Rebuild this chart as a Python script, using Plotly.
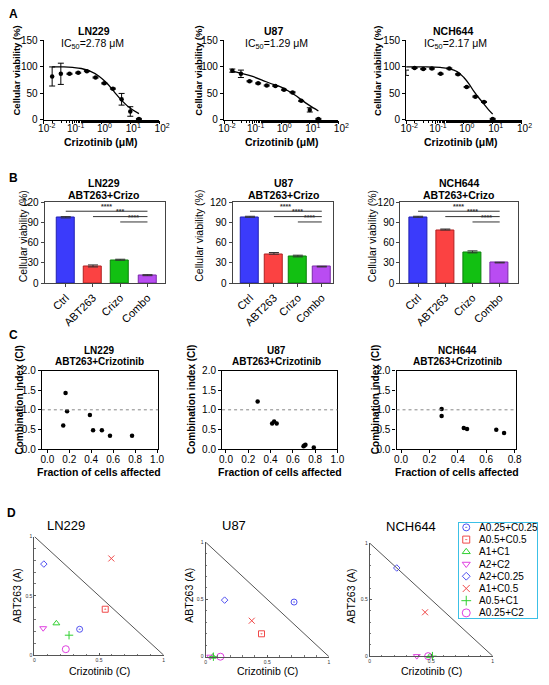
import plotly.graph_objects as go

FONT = "Liberation Sans, Arial, Helvetica, sans-serif"
W, H = 549, 685

# ---------------- DATA ----------------
cells = ["LN229", "U87", "NCH644"]
ic50_labels = ["2.78", "1.29", "2.17"]
decade_vals = [0.01, 0.1, 1, 10, 100]
decade_text = ["10<sup>-2</sup>", "10<sup>-1</sup>", "10<sup>0</sup>", "10<sup>1</sup>", "10<sup>2</sup>"]

# Panel A: dose response
conc_ln229 = [0.0195, 0.039, 0.078, 0.156, 0.3125, 0.625, 1.25, 2.5, 5, 10, 20]
via_ln229 = [82, 87, 87, 89, 92, 80, 69, 59, 39, 16, 2]
err_ln229 = [18, 20, 1, 1, 1, 1, 1, 1, 11, 9, 1]
fit_x_ln229 = [0.0195, 0.05, 0.1, 0.2, 0.4, 0.8, 1.5, 2.78, 5, 10, 20]
fit_y_ln229 = [100, 100, 99, 97, 92, 83, 70, 53, 37, 22, 12]

conc_u87 = [0.0195, 0.039, 0.078, 0.156, 0.3125, 0.625, 1.25, 2.5, 5, 10, 20]
via_u87 = [93, 87, 73, 69, 65, 64, 57, 52, 36, 19, 2]
err_u87 = [3, 7, 1, 1, 1, 1, 1, 1, 1, 4, 1]
fit_x_u87 = [0.0195, 0.04, 0.1, 0.3, 0.6, 1.0, 3, 6, 10, 20]
fit_y_u87 = [92, 88, 82, 72, 66, 62, 47, 35, 27, 17]

conc_nch = [0.0098, 0.0195, 0.039, 0.078, 0.156, 0.3125, 0.625, 1.25, 2.5, 5, 10]
via_nch = [89, 98, 96, 97, 87, 97, 86, 62, 44, 34, 2]
err_nch = [5, 1, 1, 1, 1, 1, 1, 1, 1, 1, 1]
fit_x_nch = [0.0098, 0.05, 0.15, 0.3, 0.6, 1.0, 1.5, 2.17, 3.5, 5, 7, 10]
fit_y_nch = [100, 100, 99, 97, 91, 80, 68, 55, 40, 30, 20, 11]

# Panel B: bars
groups = ["Ctrl", "ABT263", "Crizo", "Combo"]
bar_ln229 = [97, 24, 34, 11]
bar_err_ln229 = [2, 3, 1.5, 1.5]
bar_u87 = [98, 43, 39, 24]
bar_err_u87 = [1.5, 2.5, 2.5, 1]
bar_nch = [98, 79, 45, 30]
bar_err_nch = [1.5, 1.5, 3, 1]
sig_pairs = [(0, 3), (1, 3), (2, 3)]
sig_levels = [107, 99, 91]
sig_ln229 = ["****", "***", "****"]
sig_u87 = ["****", "****", "****"]
sig_nch = ["****", "****", "****"]

# Panel C: combination index
fa_ln229 = [0.166, 0.18, 0.145, 0.388, 0.417, 0.497, 0.571, 0.772]
ci_ln229 = [1.43, 0.96, 0.60, 0.87, 0.48, 0.48, 0.34, 0.34]
fa_u87 = [0.284, 0.414, 0.432, 0.455, 0.696, 0.704, 0.713, 0.788]
ci_u87 = [1.21, 0.65, 0.70, 0.65, 0.07, 0.09, 0.11, 0.04]
fa_nch = [0.286, 0.286, 0.442, 0.465, 0.671, 0.726]
ci_nch = [1.02, 0.84, 0.54, 0.51, 0.49, 0.41]

# Panel D: isobolograms
combos = ["A0.25+C0.25", "A0.5+C0.5", "A1+C1", "A2+C2", "A2+C0.25", "A1+C0.5", "A0.5+C1", "A0.25+C2"]
iso_c_ln229 = [0.35, 0.548, 0.17, 0.068, 0.073, 0.595, 0.268, 0.243]
iso_a_ln229 = [0.218, 0.387, 0.268, 0.227, 0.768, 0.815, 0.168, 0.05]
iso_c_u87 = [0.717, 0.453, 0.058, 0.037, 0.154, 0.374, 0.063, 0.12]
iso_a_u87 = [0.477, 0.2, 0.0, 0.0, 0.494, 0.314, 0.0, 0.0]
iso_c_nch = [None, None, 0.49, 0.383, 0.22, 0.45, 0.51, 0.475]
iso_a_nch = [None, None, 0.0, 0.0, 0.78, 0.388, 0.0, 0.0]

# ---------------- STYLES ----------------
bar_colors = ["#3b3bfb", "#fb4242", "#12c012", "#b94cf2"]
bar_lines = ["#2020b0", "#b02020", "#0a800a", "#7a2aa8"]
combo_symbols = ["circle-open-dot", "square-open-dot", "triangle-up-open", "triangle-down-open",
                 "diamond-open", "x-thin-open", "cross-thin-open", "circle-open"]
combo_colors = ["#5050f0", "#f04848", "#30d030", "#e040e0", "#5050f0", "#f04848", "#30d030", "#e040e0"]
combo_sizes = [6, 6, 6, 6, 5, 6, 6, 7]


def X(p):
    return p / W


def Y(p):
    return 1 - p / H


fig = go.Figure()
layout = {}
annotations = []
shapes = []


def axname(n):
    return ("xaxis" if n == 1 else f"xaxis{n}"), ("yaxis" if n == 1 else f"yaxis{n}")


def ref(n):
    return ("x" if n == 1 else f"x{n}"), ("y" if n == 1 else f"y{n}")


def add_axes(n, xpx, ypx, xcfg, ycfg):
    xa, ya = axname(n)
    xr, yr = ref(n)
    layout[xa] = dict(domain=[X(xpx[0]), X(xpx[1])], anchor=yr, **xcfg)
    layout[ya] = dict(domain=[Y(ypx[1]), Y(ypx[0])], anchor=xr, **ycfg)


def ann(text, x, y, size, bold=False, angle=0, xanchor="center", yanchor="middle", color="black"):
    if bold:
        text = f"<b>{text}</b>"
    annotations.append(dict(text=text, x=X(x), y=Y(y), xref="paper", yref="paper", showarrow=False,
                            font=dict(size=size, family=FONT, color=color), textangle=angle,
                            xanchor=xanchor, yanchor=yanchor))


tickfont = dict(size=10, family=FONT, color="black")

# ---------------- PANEL A ----------------
A_x = [(39, 158), (225, 343), (413, 532)]
A_data = [(conc_ln229, via_ln229, err_ln229, fit_x_ln229, fit_y_ln229),
          (conc_u87, via_u87, err_u87, fit_x_u87, fit_y_u87),
          (conc_nch, via_nch, err_nch, fit_x_nch, fit_y_nch)]
A_title_x = [91, 276, 461]
A_ic_x = [89, 279, 464]
A_ytitle_x = [11, 199, 384]
A_xtitle_x = [98, 285, 470]
for i in range(3):
    n = 1 + i
    add_axes(n, A_x[i], (35, 116),
             dict(type="log", range=[-2, 2], tickvals=decade_vals, ticktext=decade_text,
                  showline=True, linecolor="black", linewidth=1.3, ticks="outside", ticklen=3,
                  tickcolor="black", tickfont=tickfont, showgrid=False, zeroline=False,
                  ticklabelstandoff=-4, ticklabelshift=3,
                  minor=dict(ticks="outside", ticklen=2, tickcolor="black", showgrid=False)),
             dict(range=[0, 150], tickvals=[0, 50, 100, 150], showline=True, linecolor="black",
                  linewidth=1.3, ticks="outside", ticklen=3, tickcolor="black", tickfont=tickfont,
                  showgrid=False, zeroline=False))
    xr, yr = ref(n)
    conc, via, err, fx, fy = A_data[i]
    fig.add_trace(go.Scatter(x=fx, y=fy, mode="lines", line=dict(color="black", width=1.3, shape="spline"),
                             xaxis=xr, yaxis=yr, hoverinfo="skip"))
    fig.add_trace(go.Scatter(x=conc, y=via, mode="markers", marker=dict(color="black", size=4.5),
                             error_y=dict(type="data", array=err, color="black", thickness=1, width=3),
                             xaxis=xr, yaxis=yr, cliponaxis=False))
    ann(cells[i], A_title_x[i], 25, 10.5, bold=True)
    ann(f"IC<sub>50</sub>={ic50_labels[i]} \u03bcM", A_ic_x[i], 39, 10.5)
    ann("Cellular viability (%)", A_ytitle_x[i], 66, 9.5, bold=True, angle=-90)
    ann("Crizotinib (\u03bcM)", A_xtitle_x[i], 138, 10.5, bold=True)

# ---------------- PANEL B ----------------
B_x = [(40, 164), (234, 337), (407, 528)]
B_range = [[-0.77, 3.64], [-0.72, 3.45], [-0.65, 3.66]]
B_width = [0.66, 0.74, 0.66]
B_data = [(bar_ln229, bar_err_ln229, sig_ln229), (bar_u87, bar_err_u87, sig_u87), (bar_nch, bar_err_nch, sig_nch)]
B_title_x = [101, 286, 467]
B_ytitle_x = [17, 199, 378]
for i in range(3):
    n = 4 + i
    add_axes(n, B_x[i], (200, 282),
             dict(range=B_range[i], tickvals=[0, 1, 2, 3], ticktext=groups, tickangle=-45,
                  showline=True, mirror=True, linecolor="#444", linewidth=1.2, ticks="outside",
                  ticklen=3, tickcolor="#444", tickfont=dict(size=11, family=FONT, color="black"),
                  showgrid=False, zeroline=False),
             dict(range=[0, 120], tickvals=[0, 30, 60, 90, 120], showline=True, mirror=True,
                  linecolor="#444", linewidth=1.2, ticks="outside", ticklen=3, tickcolor="#444",
                  tickfont=tickfont, showgrid=False, zeroline=False))
    xr, yr = ref(n)
    vals, errs, sigs = B_data[i]
    fig.add_trace(go.Bar(x=[0, 1, 2, 3], y=vals, width=B_width[i],
                         marker=dict(color=bar_colors, line=dict(color=bar_lines, width=1)),
                         error_y=dict(type="data", array=errs, arrayminus=[0] * 4, symmetric=False,
                                      color="#333", thickness=1, width=5),
                         xaxis=xr, yaxis=yr))
    for (a, b), lvl, s in zip(sig_pairs, sig_levels, sigs):
        shapes.append(dict(type="line", xref=xr, yref=yr, x0=a, x1=b, y0=lvl, y1=lvl,
                           line=dict(color="#333", width=1)))
        annotations.append(dict(text=f"<b>{s}</b>", x=(a + b) / 2, y=lvl - 1, xref=xr, yref=yr,
                                showarrow=False, yanchor="bottom",
                                font=dict(size=7, family=FONT, color="#333")))
    ann(cells[i], B_title_x[i], 180, 10.5, bold=True)
    ann("ABT263+Crizo", B_title_x[i], 192, 10.5, bold=True)
    ann("Cellular viability (%)", B_ytitle_x[i], 234, 10.5, angle=-90)

# ---------------- PANEL C ----------------
C_x = [(37, 157), (223, 342), (403, 526)]
C_range = [[-0.05, 1.01], [-0.035, 1.0], [-0.032, 0.808]]
C_xticks = [[0, 0.2, 0.4, 0.6, 0.8, 1.0], [0, 0.2, 0.4, 0.6, 0.8, 1.0], [0, 0.2, 0.4, 0.6, 0.8]]
C_data = [(fa_ln229, ci_ln229), (fa_u87, ci_u87), (fa_nch, ci_nch)]
C_title_x = [96, 279, 466]
C_ytitle_x = [14, 192, 382]
C_xtitle_x = [96, 283, 465]
for i in range(3):
    n = 7 + i
    add_axes(n, C_x[i], (371, 451),
             dict(range=C_range[i], tickvals=C_xticks[i], tickformat=".1f", showline=True, mirror=True,
                  linecolor="black", linewidth=1.2, ticks="outside", ticklen=3, tickcolor="black",
                  tickfont=tickfont, showgrid=False, zeroline=False, ticklabelstandoff=-2),
             dict(range=[0, 2], tickvals=[0, 0.5, 1.0, 1.5, 2.0], tickformat=".1f", showline=True,
                  mirror=True, linecolor="black", linewidth=1.2, ticks="outside", ticklen=3,
                  tickcolor="black", tickfont=tickfont, showgrid=False, zeroline=False))
    xr, yr = ref(n)
    fa, ci = C_data[i]
    shapes.append(dict(type="line", xref=f"{xr} domain", yref=yr, x0=0, x1=1, y0=1, y1=1,
                       line=dict(color="#888", width=1, dash="dot")))
    fig.add_trace(go.Scatter(x=fa, y=ci, mode="markers", marker=dict(color="black", size=4.5),
                             xaxis=xr, yaxis=yr, cliponaxis=False))
    ann(cells[i], C_title_x[i], 351, 10, bold=True)
    ann("ABT263+Crizotinib", C_title_x[i], 361.5, 10, bold=True)
    ann("Combination index (CI)", C_ytitle_x[i], 401, 10, bold=True, angle=-90)
    ann("Fraction of cells affected", C_xtitle_x[i], 474, 10.5, bold=True)

# ---------------- PANEL D ----------------
D_x = [(29.3, 162.7), (206, 333.3), (375.3, 502.3)]
D_y = [(540, 660.7), (545.7, 662.3), (546.7, 661.7)]
D_data = [(iso_c_ln229, iso_a_ln229), (iso_c_u87, iso_a_u87), (iso_c_nch, iso_a_nch)]
D_title = [(62, 529), (235, 529), (418, 530)]
D_ytitle_x = [12, 189, 357]
D_xtitle_x = [96, 270, 439]
small = dict(size=5, family=FONT, color="#333")
for i in range(3):
    n = 10 + i
    add_axes(n, D_x[i], D_y[i],
             dict(range=[0, 1], tickvals=[0, 0.5, 1], ticktext=["0", "0.5", "1"], showline=True,
                  linecolor="#555", linewidth=1, ticks="inside", ticklen=2, tickcolor="#555",
                  tickfont=small, showgrid=False, zeroline=False,
                  minor=dict(ticks="inside", ticklen=1.5, dtick=0.1, tickcolor="#777", showgrid=False)),
             dict(range=[0, 1], tickvals=[0, 0.5, 1], ticktext=["0", "0.5", "1"], showline=True,
                  linecolor="#555", linewidth=1, ticks="inside", ticklen=2, tickcolor="#555",
                  tickfont=small, showgrid=False, zeroline=False,
                  minor=dict(ticks="inside", ticklen=1.5, dtick=0.1, tickcolor="#777", showgrid=False)))
    xr, yr = ref(n)
    shapes.append(dict(type="line", xref=xr, yref=yr, x0=0, y0=1, x1=1, y1=0,
                       line=dict(color="#555", width=1)))
    cx, ay = D_data[i]
    for k in range(len(combos)):
        if cx[k] is None:
            continue
        fig.add_trace(go.Scatter(x=[cx[k]], y=[ay[k]], mode="markers", name=combos[k],
                                 marker=dict(symbol=combo_symbols[k], color=combo_colors[k],
                                             size=combo_sizes[k], line=dict(width=1, color=combo_colors[k])),
                                 xaxis=xr, yaxis=yr, cliponaxis=False))
    ann(cells[i], D_title[i][0], D_title[i][1], 13)
    ann("ABT263 (A)", D_ytitle_x[i], 600, 10.5, angle=-90)
    ann("Crizotinib (C)", D_xtitle_x[i], 677, 10.5)

# Legend box for panel D (drawn as its own small axis)
n = 13
add_axes(n, (467.7, 548.3), (526.7, 623.3),
         dict(range=[0, 1], showline=True, mirror=True, linecolor="#3cc0e6", linewidth=1.2,
              showticklabels=False, ticks="", showgrid=False, zeroline=False),
         dict(range=[7.45, -0.32], showline=True, mirror=True, linecolor="#3cc0e6", linewidth=1.2,
              showticklabels=False, ticks="", showgrid=False, zeroline=False))
xr, yr = ref(n)
for k in range(len(combos)):
    fig.add_trace(go.Scatter(x=[0.09], y=[k], mode="markers",
                             marker=dict(symbol=combo_symbols[k], color=combo_colors[k],
                                         size=combo_sizes[k] + 1, line=dict(width=1, color=combo_colors[k])),
                             xaxis=xr, yaxis=yr, cliponaxis=False))
    annotations.append(dict(text=combos[k], x=0.225, y=k, xref=xr, yref=yr, showarrow=False,
                            xanchor="left", yanchor="middle",
                            font=dict(size=10, family=FONT, color="black")))

# Panel letters
ann("A", 8, 8, 12, bold=True)
ann("B", 8, 175, 12, bold=True)
ann("C", 8, 335, 12, bold=True)
ann("D", 6, 516, 12, bold=True)

fig.update_layout(**layout)
fig.update_layout(width=W, height=H, margin=dict(l=0, r=0, t=0, b=0), showlegend=False,
                  plot_bgcolor="white", paper_bgcolor="white", annotations=annotations, shapes=shapes,
                  font=dict(family=FONT, color="black"), bargap=0)
fig.write_html("out.html", config={"displayModeBar": False})

# remove the browser's default page margin so the figure sits at the window's origin
with open("out.html", "r", encoding="utf-8") as f:
    html = f.read()
html = html.replace("<body>", '<body style="margin:0;padding:0;overflow:hidden">', 1)
with open("out.html", "w", encoding="utf-8") as f:
    f.write(html)
